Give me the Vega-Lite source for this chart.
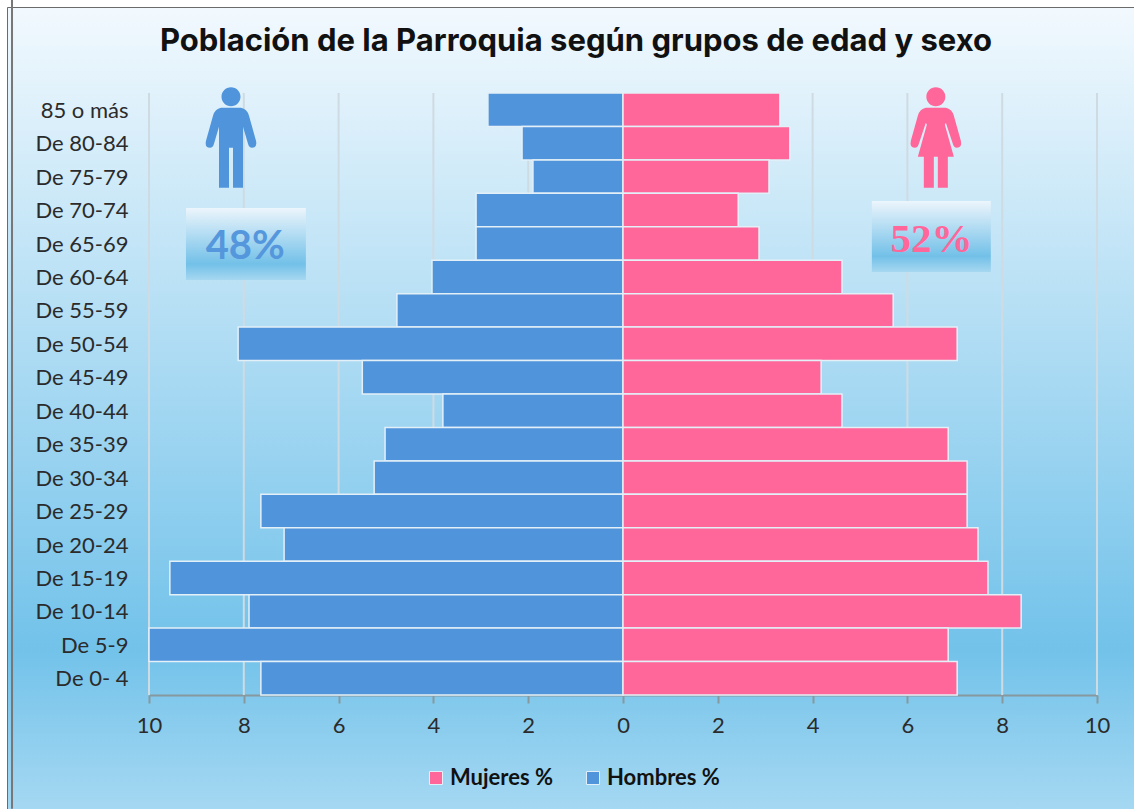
{"$schema":"https://vega.github.io/schema/vega-lite/v6.json","width":1127,"height":802,"padding":{"left":7,"top":7,"right":0,"bottom":0},"autosize":"none","background":"#ffffff","title":{"text":"Población de la Parroquia según grupos de edad y sexo","font":"Inter","fontSize":31,"fontWeight":"bold","color":"#111111","anchor":"middle","frame":"group","dy":64,"dx":5.5},"config":{"view":{"stroke":"#6b6b6b","strokeWidth":1,"fill":{"x1":0,"y1":0,"x2":0,"y2":1,"gradient":"linear","stops":[{"offset":0,"color":"#f2f9fe"},{"offset":0.8,"color":"#72c2ea"},{"offset":1,"color":"#a5d8f2"}]}}},"datasets":{"pop":[{"edad":"85 o más","sexo":"Hombres %","valor":-2.85},{"edad":"De 80-84","sexo":"Hombres %","valor":-2.13},{"edad":"De 75-79","sexo":"Hombres %","valor":-1.9},{"edad":"De 70-74","sexo":"Hombres %","valor":-3.1},{"edad":"De 65-69","sexo":"Hombres %","valor":-3.1},{"edad":"De 60-64","sexo":"Hombres %","valor":-4.03},{"edad":"De 55-59","sexo":"Hombres %","valor":-4.77},{"edad":"De 50-54","sexo":"Hombres %","valor":-8.12},{"edad":"De 45-49","sexo":"Hombres %","valor":-5.5},{"edad":"De 40-44","sexo":"Hombres %","valor":-3.8},{"edad":"De 35-39","sexo":"Hombres %","valor":-5.02},{"edad":"De 30-34","sexo":"Hombres %","valor":-5.25},{"edad":"De 25-29","sexo":"Hombres %","valor":-7.64},{"edad":"De 20-24","sexo":"Hombres %","valor":-7.15},{"edad":"De 15-19","sexo":"Hombres %","valor":-9.56},{"edad":"De 10-14","sexo":"Hombres %","valor":-7.89},{"edad":"De 5-9","sexo":"Hombres %","valor":-10},{"edad":"De 0- 4","sexo":"Hombres %","valor":-7.64},{"edad":"85 o más","sexo":"Mujeres %","valor":3.31},{"edad":"De 80-84","sexo":"Mujeres %","valor":3.52},{"edad":"De 75-79","sexo":"Mujeres %","valor":3.08},{"edad":"De 70-74","sexo":"Mujeres %","valor":2.43},{"edad":"De 65-69","sexo":"Mujeres %","valor":2.87},{"edad":"De 60-64","sexo":"Mujeres %","valor":4.62},{"edad":"De 55-59","sexo":"Mujeres %","valor":5.7},{"edad":"De 50-54","sexo":"Mujeres %","valor":7.05},{"edad":"De 45-49","sexo":"Mujeres %","valor":4.18},{"edad":"De 40-44","sexo":"Mujeres %","valor":4.62},{"edad":"De 35-39","sexo":"Mujeres %","valor":6.86},{"edad":"De 30-34","sexo":"Mujeres %","valor":7.26},{"edad":"De 25-29","sexo":"Mujeres %","valor":7.26},{"edad":"De 20-24","sexo":"Mujeres %","valor":7.49},{"edad":"De 15-19","sexo":"Mujeres %","valor":7.7},{"edad":"De 10-14","sexo":"Mujeres %","valor":8.4},{"edad":"De 5-9","sexo":"Mujeres %","valor":6.86},{"edad":"De 0- 4","sexo":"Mujeres %","valor":7.05}]},"layer":[{"data":{"values":[{"v":-10,"a":0,"b":18},{"v":-8,"a":0,"b":18},{"v":-6,"a":0,"b":18},{"v":-4,"a":0,"b":18},{"v":-2,"a":0,"b":18},{"v":2,"a":0,"b":18},{"v":4,"a":0,"b":18},{"v":6,"a":0,"b":18},{"v":8,"a":0,"b":18},{"v":10,"a":0,"b":18}]},"mark":{"type":"rule","color":"#cfdbe3","strokeWidth":2},"encoding":{"x":{"field":"v","type":"quantitative","title":null,"scale":{"domain":[-10,10],"range":[142,1090]},"axis":{"offset":-114,"values":[-10,-8,-6,-4,-2,0,2,4,6,8,10],"labelExpr":"abs(datum.value)","labelFlush":false,"grid":false,"domainColor":"#87989f","domainWidth":2,"tickColor":"#87989f","tickWidth":2,"tickSize":8,"labelFont":"Lato","labelFontSize":22,"labelColor":"#2b2b2b","labelPadding":12}},"y":{"field":"a","type":"quantitative","axis":null,"scale":{"domain":[0,18],"range":[688,86]}},"y2":{"field":"b"}}},{"data":{"name":"pop"},"mark":{"type":"bar","stroke":"#e3f0f8","strokeWidth":1.5},"encoding":{"y":{"field":"edad","type":"nominal","sort":null,"title":null,"scale":{"type":"band","paddingInner":0,"paddingOuter":0,"range":[86,688]},"axis":{"offset":-142,"domain":false,"ticks":false,"labelFont":"Lato","labelFontSize":22,"labelColor":"#2b2b2b","labelPadding":21,"labelBaseline":"middle","labelOffset":1}},"x":{"field":"valor","type":"quantitative","title":null,"scale":{"domain":[-10,10],"range":[142,1090]}},"color":{"field":"sexo","type":"nominal","scale":{"domain":["Mujeres %","Hombres %"],"range":["#ff6699","#5095db"]},"legend":{"title":null,"orient":"none","legendX":418,"legendY":760,"direction":"horizontal","symbolType":"square","symbolSize":170,"symbolStrokeColor":"#e3f0f8","symbolStrokeWidth":1,"labelFont":"Lato","labelFontSize":22,"labelFontWeight":"bold","labelColor":"#111111","columnPadding":28,"labelOffset":3}}}},{"data":{"values":[{"s":"Hombres","x":-8.27,"y":16.66},{"s":"Mujeres","x":6.6,"y":16.66}]},"transform":[{"filter":"datum.s==='Hombres'"}],"mark":{"type":"point","filled":true,"opacity":1,"strokeWidth":0,"fill":"#5095db","size":10000,"shape":"M0,-1.01A.19,.19 0 1,1 0,-.63A.19,.19 0 1,1 0,-1.01ZM-.2,-.6L.2,-.6Q.32,-.58 .36,-.44L.5,.06Q.53,.2 .42,.2Q.36,.2 .34,.12L.24,-.22L.24,1L.04,1L.04,.2L-.04,.2L-.04,1L-.24,1L-.24,-.22L-.34,.12Q-.36,.2 -.42,.2Q-.53,.2 -.5,.06L-.36,-.44Q-.32,-.58 -.2,-.6Z"},"encoding":{"x":{"field":"x","type":"quantitative","title":null,"scale":{"domain":[-10,10],"range":[142,1090]}},"y":{"field":"y","type":"quantitative","axis":null,"scale":{"domain":[0,18],"range":[688,86]}}}},{"data":{"values":[{"s":"Hombres","x":-8.27,"y":16.66},{"s":"Mujeres","x":6.6,"y":16.66}]},"transform":[{"filter":"datum.s==='Mujeres'"}],"mark":{"type":"point","filled":true,"opacity":1,"strokeWidth":0,"fill":"#ff6699","size":10000,"shape":"M0,-1.01A.19,.19 0 1,1 0,-.63A.19,.19 0 1,1 0,-1.01ZM-.2,-.6L.2,-.6Q.32,-.58 .36,-.44L.5,.06Q.53,.2 .42,.2Q.36,.2 .34,.12L.2,-.3L.18,-.26L.36,.38L.24,.38L.24,1L.04,1L.04,.38L-.04,.38L-.04,1L-.24,1L-.24,.38L-.36,.38L-.18,-.26L-.2,-.3L-.34,.12Q-.36,.2 -.42,.2Q-.53,.2 -.5,.06L-.36,-.44Q-.32,-.58 -.2,-.6Z"},"encoding":{"x":{"field":"x","type":"quantitative","title":null,"scale":{"domain":[-10,10],"range":[142,1090]}},"y":{"field":"y","type":"quantitative","axis":null,"scale":{"domain":[0,18],"range":[688,86]}}}},{"data":{"values":[{"x":-9.22,"x2":-6.69,"y":14.56,"y2":12.41},{"x":5.25,"x2":7.76,"y":14.77,"y2":12.65}]},"mark":{"type":"rect","color":{"x1":0,"y1":0,"x2":0,"y2":1,"gradient":"linear","stops":[{"offset":0,"color":"#ecf5fc"},{"offset":0.78,"color":"#72c0e8"},{"offset":1,"color":"#a6d8f0"}]}},"encoding":{"x":{"field":"x","type":"quantitative","title":null,"scale":{"domain":[-10,10],"range":[142,1090]}},"x2":{"field":"x2"},"y":{"field":"y","type":"quantitative","axis":null,"scale":{"domain":[0,18],"range":[688,86]}},"y2":{"field":"y2"}}},{"data":{"values":[{"t":"48%","x":-7.97,"y":13.5}]},"mark":{"type":"text","font":"Lato","fontSize":40,"fontWeight":"bold","color":"#5597dc","dy":3},"encoding":{"text":{"field":"t"},"x":{"field":"x","type":"quantitative","title":null,"scale":{"domain":[-10,10],"range":[142,1090]}},"y":{"field":"y","type":"quantitative","axis":null,"scale":{"domain":[0,18],"range":[688,86]}}}},{"data":{"values":[{"t":"52%","x":6.51,"y":13.74}]},"mark":{"type":"text","font":"Liberation Serif","fontSize":41,"fontWeight":"bold","color":"#ff6699","dy":5},"encoding":{"text":{"field":"t"},"x":{"field":"x","type":"quantitative","title":null,"scale":{"domain":[-10,10],"range":[142,1090]}},"y":{"field":"y","type":"quantitative","axis":null,"scale":{"domain":[0,18],"range":[688,86]}}}},{"data":{"values":[{"x":-12.89,"a":-3.4,"b":20.8}]},"mark":{"type":"rule","color":"#777777","strokeWidth":2},"encoding":{"x":{"field":"x","type":"quantitative","title":null,"scale":{"domain":[-10,10],"range":[142,1090]}},"y":{"field":"a","type":"quantitative","axis":null,"scale":{"domain":[0,18],"range":[688,86]}},"y2":{"field":"b"}}}],"resolve":{"scale":{"y":"independent"}}}
